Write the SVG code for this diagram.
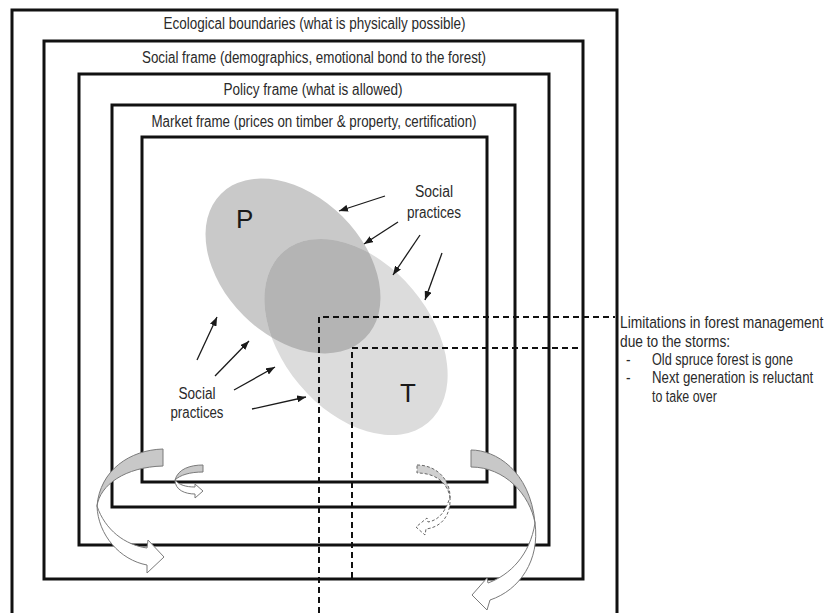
<svg xmlns="http://www.w3.org/2000/svg" width="826" height="613" viewBox="0 0 826 613">
<style>
  .frame { fill: none; stroke: #111; stroke-width: 3; }
  .lbl { font-family: "Liberation Sans", Arial, sans-serif; font-size: 16px; fill: #2a2a2a; }
  .note { font-family: "Liberation Sans", Arial, sans-serif; font-size: 17px; fill: #2a2a2a; }
  .big { font-family: "Liberation Sans", Arial, sans-serif; font-size: 26px; fill: #1a1a1a; }
  .sp { stroke: #1a1a1a; stroke-width: 1.3; fill: none; marker-end: url(#ah); }
  .dash { fill: none; stroke: #111; stroke-width: 2; stroke-dasharray: 6 4; }
  .cgray { fill: #c8c8c8; stroke: #7a7a7a; stroke-width: 1; }
  .cwhite { fill: #fff; stroke: #7a7a7a; stroke-width: 1; }
  .dgray { fill: #d0d0d0; stroke: #666; stroke-width: 1; stroke-dasharray: 3 2; }
  .dwhite { fill: #fff; stroke: #666; stroke-width: 1; stroke-dasharray: 3 2; }
</style>
<defs>
  <marker id="ah" markerUnits="userSpaceOnUse" markerWidth="9" markerHeight="7" refX="9" refY="3.5" orient="auto">
    <path d="M0,0 L9,3.5 L0,7 Z" fill="#1a1a1a"/>
  </marker>
  <clipPath id="clipP">
    <ellipse cx="293" cy="266" rx="102" ry="70" transform="rotate(45 293 266)"/>
  </clipPath>
</defs>
<rect width="826" height="613" fill="#fff"/>

<g id="frame-ecological">
  <path class="frame" d="M12,620 V10 H617 V620"/>
  <text class="lbl" x="314.5" y="29" text-anchor="middle" textLength="302" lengthAdjust="spacingAndGlyphs">Ecological boundaries (what is physically possible)</text>
</g>
<g id="frame-social">
  <rect class="frame" x="44" y="41" width="539" height="538"/>
  <text class="lbl" x="314" y="63" text-anchor="middle" textLength="344" lengthAdjust="spacingAndGlyphs">Social frame (demographics, emotional bond to the forest)</text>
</g>
<g id="frame-policy">
  <rect class="frame" x="79" y="74" width="470" height="471"/>
  <text class="lbl" x="313" y="95" text-anchor="middle" textLength="179" lengthAdjust="spacingAndGlyphs">Policy frame (what is allowed)</text>
</g>
<g id="frame-market">
  <rect class="frame" x="112" y="105" width="403" height="402"/>
  <text class="lbl" x="314" y="127" text-anchor="middle" textLength="325" lengthAdjust="spacingAndGlyphs">Market frame (prices on timber &amp; property, certification)</text>
</g>
<g id="frame-inner">
  <rect class="frame" x="142" y="137" width="345" height="345"/>
</g>

<g id="ellipse-P">
  <ellipse cx="293" cy="266" rx="102" ry="70" transform="rotate(45 293 266)" fill="#c9c9c9"/>
</g>
<g id="ellipse-T">
  <ellipse cx="356" cy="337" rx="112" ry="74" transform="rotate(50 356 337)" fill="#dcdcdc"/>
  <g clip-path="url(#clipP)">
    <ellipse cx="356" cy="337" rx="112" ry="74" transform="rotate(50 356 337)" fill="#b4b4b4"/>
  </g>
</g>
<g id="label-P"><text class="big" x="236" y="228">P</text></g>
<g id="label-T"><text class="big" x="408" y="402" text-anchor="middle">T</text></g>

<g id="social-practices-top">
  <text class="lbl" x="434" y="197" text-anchor="middle" textLength="38" lengthAdjust="spacingAndGlyphs">Social</text>
  <text class="lbl" x="434" y="218" text-anchor="middle" textLength="54" lengthAdjust="spacingAndGlyphs">practices</text>
</g>
<g id="social-practices-bottom">
  <text class="lbl" x="197" y="399" text-anchor="middle" textLength="37" lengthAdjust="spacingAndGlyphs">Social</text>
  <text class="lbl" x="197" y="418" text-anchor="middle" textLength="53" lengthAdjust="spacingAndGlyphs">practices</text>
</g>

<g id="note-storms">
  <text class="note" transform="translate(620,328) scale(0.81,1)" textLength="251" lengthAdjust="spacingAndGlyphs">Limitations in forest management</text>
  <text class="note" transform="translate(620,347) scale(0.81,1)" textLength="136" lengthAdjust="spacingAndGlyphs">due to the storms:</text>
  <text class="note" transform="translate(626,365) scale(0.81,1)">-</text>
  <text class="note" transform="translate(652,365) scale(0.81,1)" textLength="174" lengthAdjust="spacingAndGlyphs">Old spruce forest is gone</text>
  <text class="note" transform="translate(626,383) scale(0.81,1)">-</text>
  <text class="note" transform="translate(652,383) scale(0.81,1)" textLength="199" lengthAdjust="spacingAndGlyphs">Next generation is reluctant</text>
  <text class="note" transform="translate(652,402) scale(0.81,1)" textLength="80" lengthAdjust="spacingAndGlyphs">to take over</text>
</g>

<g id="connectors">
  <line class="sp" x1="385" y1="196" x2="339" y2="211"/>
  <line class="sp" x1="398" y1="222" x2="364" y2="244"/>
  <line class="sp" x1="420" y1="235" x2="393" y2="275"/>
  <line class="sp" x1="442" y1="253" x2="425" y2="300"/>
  <line class="sp" x1="197" y1="360" x2="217" y2="317"/>
  <line class="sp" x1="215" y1="376" x2="249" y2="341"/>
  <line class="sp" x1="234" y1="390" x2="275" y2="367"/>
  <line class="sp" x1="252" y1="409" x2="306" y2="397"/>
  <path class="dash" d="M319,613 V317 H615"/>
  <path class="dash" d="M352,578 V348 H582"/>
</g>

<g id="curved-arrow-left-large">
  <path class="cgray" d="M163,449 C130,450 100,470 97,506 C100,485 125,467 163,466 Z"/>
  <path class="cwhite" d="M97,506 C98,535 120,560 147,565 L147,573 L164,557 L148,540 L147,548 C125,545 105,530 97,506 Z"/>
</g>
<g id="curved-arrow-left-small">
  <path class="cgray" d="M203,465 C190,465 178,469 175,480 C180,475 190,472 203,472 Z"/>
  <path class="cwhite" d="M175,480 C175,490 185,494 195,494 L195,498 L203,491 L195,484 L195,487 C186,487 179,485 175,480 Z"/>
</g>
<g id="curved-arrow-right-large">
  <path class="cgray" d="M471,450 C495,450 530,470 535,523 C530,495 505,467 471,467 Z"/>
  <path class="cwhite" d="M535,523 C540,560 520,590 490,600 L487,610 L472,595 L487,578 L488,583 C510,575 530,555 535,523 Z"/>
</g>
<g id="curved-arrow-right-dashed">
  <path class="dgray" d="M417,465 C435,465 450,478 450,497 C447,482 435,473 417,473 Z"/>
  <path class="dwhite" d="M450,497 C451,515 442,527 426,529 L425,535 L416,527 L427,518 L428,522 C440,520 446,510 450,497 Z"/>
</g>
</svg>
